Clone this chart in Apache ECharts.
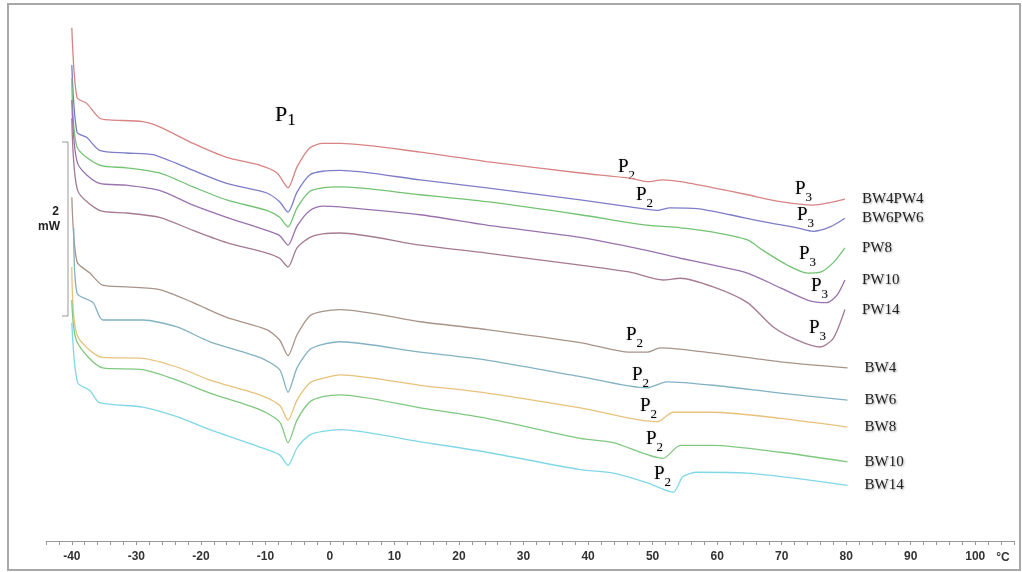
<!DOCTYPE html>
<html>
<head>
<meta charset="utf-8">
<style>
  html, body { margin: 0; padding: 0; background: #fff; }
  #chart { width: 1022px; height: 572px; }
</style>
<script src="https://cdn.jsdelivr.net/npm/echarts@6/dist/echarts.min.js"></script>
</head>
<body>
<div id="chart"></div>
<script>
// DSC thermograms: [temperature °C, heat flow mW (curves stacked with an offset)]
const bw4pw4 = [[-40.0, 5.90], [-39.2, 5.10], [-37.7, 5.03], [-35.7, 4.86], [-34.1, 4.84], [-29.0, 4.82], [-26.4, 4.76], [-21.2, 4.57], [-16.0, 4.41], [-10.9, 4.32], [-8.2, 4.23], [-6.5, 4.06], [-5.1, 4.30], [-3.1, 4.52], [-1.1, 4.57], [1.6, 4.57], [14.0, 4.47], [24.3, 4.36], [38.8, 4.23], [46.5, 4.17], [49.1, 4.13], [51.6, 4.15], [54.3, 4.13], [59.4, 4.06], [64.7, 3.98], [69.8, 3.90], [74.9, 3.86], [77.5, 3.89], [79.8, 3.93]]
const bw6pw6 = [[-40.0, 5.47], [-39.2, 4.70], [-37.7, 4.64], [-35.7, 4.49], [-31.5, 4.46], [-27.4, 4.44], [-21.2, 4.26], [-16.0, 4.11], [-9.8, 4.00], [-7.8, 3.90], [-6.5, 3.78], [-5.1, 4.01], [-3.1, 4.21], [-1.1, 4.25], [1.6, 4.26], [14.0, 4.15], [24.3, 4.06], [38.8, 3.92], [46.5, 3.84], [50.7, 3.80], [52.7, 3.83], [56.9, 3.82], [62.0, 3.75], [67.1, 3.67], [72.4, 3.60], [74.9, 3.56], [77.5, 3.61], [79.8, 3.71]]
const pw8 = [[-40.0, 5.32], [-39.2, 4.53], [-35.7, 4.32], [-31.5, 4.29], [-26.4, 4.23], [-21.2, 4.07], [-16.0, 3.92], [-9.8, 3.80], [-7.8, 3.72], [-6.5, 3.61], [-5.1, 3.83], [-3.1, 4.02], [-1.1, 4.06], [1.6, 4.07], [14.0, 3.98], [24.3, 3.90], [38.8, 3.75], [49.1, 3.63], [54.3, 3.60], [59.4, 3.55], [64.7, 3.46], [67.1, 3.34], [70.9, 3.17], [74.0, 3.08], [76.0, 3.09], [78.0, 3.20], [79.8, 3.37]]
const pw10 = [[-40.0, 5.07], [-39.1, 4.34], [-35.7, 4.11], [-31.5, 4.09], [-26.4, 4.03], [-21.2, 3.86], [-16.0, 3.72], [-9.8, 3.57], [-7.8, 3.51], [-6.5, 3.40], [-5.1, 3.62], [-3.1, 3.80], [-1.1, 3.85], [1.6, 3.84], [14.0, 3.75], [24.3, 3.63], [38.8, 3.49], [49.1, 3.34], [54.3, 3.25], [59.4, 3.17], [64.7, 3.08], [69.8, 2.91], [74.0, 2.77], [77.0, 2.74], [78.6, 2.83], [79.8, 3.00]]
const pw14 = [[-40.0, 4.86], [-39.1, 4.03], [-35.7, 3.80], [-31.5, 3.77], [-26.4, 3.72], [-21.2, 3.57], [-16.0, 3.43], [-9.8, 3.31], [-7.8, 3.25], [-6.5, 3.15], [-5.1, 3.37], [-3.1, 3.49], [-1.1, 3.53], [1.6, 3.54], [14.0, 3.40], [24.3, 3.31], [38.8, 3.17], [46.5, 3.09], [51.6, 3.00], [54.3, 3.02], [59.4, 2.92], [64.7, 2.74], [68.7, 2.46], [72.4, 2.31], [76.0, 2.23], [78.0, 2.33], [79.8, 2.66]]
const bw4 = [[-40.0, 3.95], [-39.2, 3.21], [-37.2, 3.08], [-35.2, 2.94], [-31.5, 2.92], [-26.4, 2.89], [-21.2, 2.74], [-16.0, 2.57], [-9.8, 2.43], [-7.8, 2.31], [-6.5, 2.13], [-5.1, 2.37], [-3.1, 2.59], [-1.1, 2.64], [1.6, 2.66], [14.0, 2.52], [24.3, 2.43], [38.8, 2.28], [46.5, 2.17], [49.1, 2.17], [51.2, 2.22], [59.4, 2.16], [69.8, 2.06], [80.2, 1.99]]
const bw6 = [[-39.7, 3.60], [-39.2, 2.85], [-36.7, 2.74], [-35.2, 2.54], [-29.0, 2.54], [-23.7, 2.46], [-18.6, 2.29], [-10.9, 2.11], [-7.8, 1.97], [-6.5, 1.71], [-5.1, 1.99], [-3.1, 2.20], [-1.1, 2.26], [1.6, 2.29], [14.0, 2.17], [24.3, 2.08], [38.8, 1.89], [49.1, 1.76], [52.2, 1.83], [59.4, 1.79], [69.8, 1.70], [80.2, 1.62]]
const bw8 = [[-40.0, 3.15], [-39.2, 2.37], [-35.2, 2.11], [-29.0, 2.10], [-23.7, 2.00], [-18.6, 1.85], [-10.9, 1.68], [-7.8, 1.56], [-6.5, 1.39], [-5.1, 1.62], [-3.1, 1.82], [-1.1, 1.87], [1.6, 1.91], [14.0, 1.79], [24.3, 1.70], [38.8, 1.53], [50.7, 1.37], [53.2, 1.48], [59.4, 1.48], [69.8, 1.41], [80.2, 1.31]]
const bw10 = [[-40.0, 2.77], [-39.2, 2.29], [-35.2, 1.99], [-29.0, 1.97], [-23.7, 1.85], [-18.6, 1.70], [-10.9, 1.51], [-7.8, 1.37], [-6.5, 1.13], [-5.1, 1.39], [-3.1, 1.60], [-1.1, 1.66], [1.6, 1.68], [14.0, 1.53], [24.3, 1.41], [38.8, 1.18], [43.9, 1.13], [51.6, 0.95], [54.3, 1.10], [59.4, 1.10], [69.8, 1.02], [80.2, 0.91]]
const bw14 = [[-40.0, 2.51], [-39.1, 1.82], [-37.2, 1.73], [-35.7, 1.59], [-29.0, 1.54], [-23.7, 1.43], [-18.6, 1.28], [-10.9, 1.08], [-7.8, 0.99], [-6.5, 0.87], [-5.1, 1.07], [-3.1, 1.22], [-1.1, 1.26], [1.6, 1.28], [14.0, 1.14], [24.3, 1.02], [38.8, 0.82], [43.9, 0.78], [49.1, 0.67], [53.2, 0.56], [54.7, 0.74], [56.9, 0.79], [64.7, 0.78], [80.2, 0.64]]

const names = ['BW4PW4', 'BW6PW6', 'PW8', 'PW10', 'PW14', 'BW4', 'BW6', 'BW8', 'BW10', 'BW14']
const curves = [bw4pw4, bw6pw6, pw8, pw10, pw14, bw4, bw6, bw8, bw10, bw14]
const colors = ['#d88484', '#7d7dc8', '#74c274', '#9a72ae', '#a57a92', '#a89488', '#82b2c2', '#e8c27c', '#80c880', '#80d8e6']

// peak labels (pixel position of the "P", subscript)
const peakLabels = [
  [275, 115, '1'],
  [618, 167, '2'], [636, 195, '2'],
  [795, 189, '3'], [797, 215, '3'], [799, 254, '3'], [811, 286, '3'], [809, 328, '3'],
  [626, 335, '2'], [632, 375, '2'], [640, 406, '2'], [646, 439, '2'], [654, 474, '2']
]

const serif = "'Liberation Serif', 'Times New Roman', serif"
const sans = "'Liberation Sans', Arial, sans-serif"

const chart = echarts.init(document.getElementById('chart'))

const graphics = [
  // frame
  { type: 'rect', shape: { x: 8, y: 4, width: 1012, height: 566 }, style: { fill: 'none', stroke: '#a8a8a8', lineWidth: 2 }, silent: true },
  // 2 mW scale bar
  { type: 'polyline', shape: { points: [[62, 142], [68, 142], [68, 316], [62, 316]] }, style: { fill: 'none', stroke: '#999', lineWidth: 1 } },
  { type: 'text', style: { text: '2', x: 59, y: 212, align: 'right', verticalAlign: 'middle', font: 'bold 12px ' + sans, fill: '#222' } },
  { type: 'text', style: { text: 'mW', x: 60, y: 227, align: 'right', verticalAlign: 'middle', font: 'bold 12px ' + sans, fill: '#222' } },
  { type: 'text', style: { text: '°C', x: 1003, y: 558, align: 'center', verticalAlign: 'middle', font: 'bold 12px ' + sans, fill: '#333' } }
]

peakLabels.forEach(([x, y, sub]) => {
  const big = sub === '1'
  graphics.push({
    type: 'text',
    style: {
      text: '{p|P}{s|' + sub + '}',
      x: x,
      y: y,
      align: 'left',
      verticalAlign: 'middle',
      textShadowColor: 'rgba(0,0,0,0.25)',
      textShadowBlur: 2,
      rich: {
        p: { fontSize: big ? 22 : 19, fontFamily: serif, color: '#1a1a1a', lineHeight: big ? 24 : 22, verticalAlign: 'middle' },
        s: { fontSize: big ? 17 : 13, fontFamily: serif, color: '#1a1a1a', lineHeight: big ? 28 : 30, verticalAlign: 'bottom' }
      }
    }
  })
})

chart.setOption({
  animation: false,
  grid: { left: 46, right: 8, top: 19, bottom: 31 },
  xAxis: {
    type: 'value',
    min: -44,
    max: 106,
    interval: 2,
    axisLine: { lineStyle: { color: '#999', width: 1 } },
    axisTick: { length: 4, lineStyle: { color: '#999' } },
    splitLine: { show: false },
    axisLabel: {
      margin: 10,
      fontSize: 12,
      fontWeight: 'bold',
      fontFamily: sans,
      color: '#333',
      formatter: v => (v % 10 === 0 && v >= -40 && v <= 100 ? String(v) : '')
    }
  },
  yAxis: {
    type: 'value',
    min: 0,
    max: 6,
    show: false
  },
  series: curves.map((d, i) => ({
    name: names[i],
    type: 'line',
    data: d,
    showSymbol: false,
    smooth: 0.25,
    lineStyle: { color: colors[i], width: 1.3 },
    endLabel: {
      show: true,
      formatter: '{a}',
      distance: 17,
      fontFamily: serif,
      fontSize: 15,
      color: '#222',
      textShadowColor: 'rgba(0,0,0,0.35)',
      textShadowBlur: 2,
      textShadowOffsetX: 1,
      textShadowOffsetY: 1
    }
  })),
  graphic: graphics
})
</script>
</body>
</html>
